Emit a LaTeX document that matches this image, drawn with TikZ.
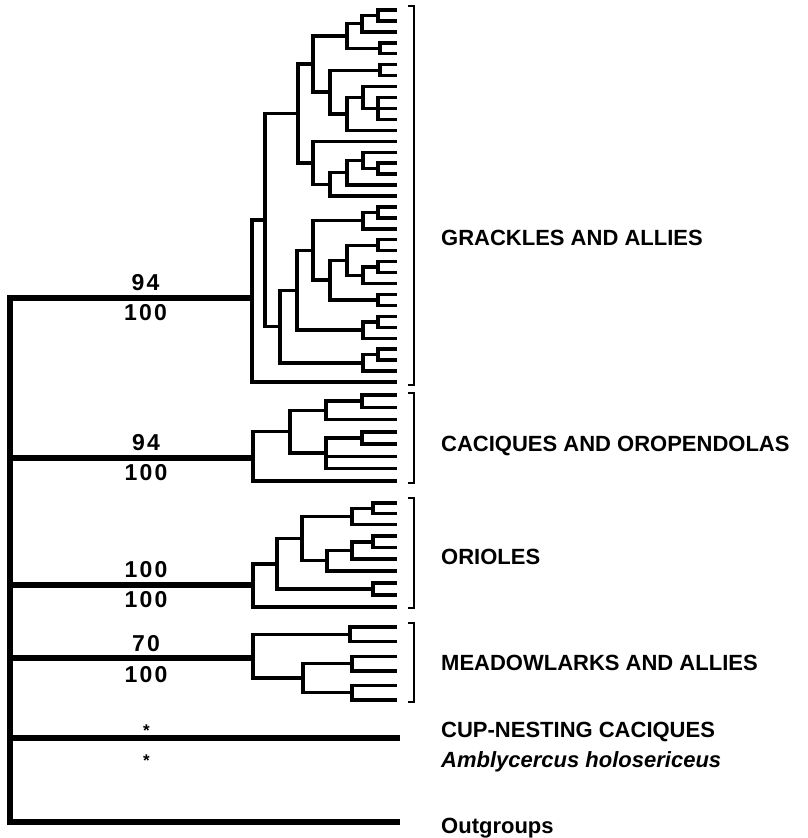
\documentclass[tikz,border=0pt]{standalone}
\usepackage{fontspec}
\setmainfont{Liberation Sans}
\newfontfamily\suppfont{Liberation Sans}[LetterSpace=10]
\begin{document}
\begin{tikzpicture}[x=1pt,y=-1pt,
    br/.style={line width=3.4pt},
    stem/.style={line width=5.4pt},
    brk/.style={line width=1.5pt},
    supp/.style={font=\suppfont\bfseries\fontsize{23}{26}\selectfont,inner sep=0pt,pos=.44},
    ast/.style={font=\bfseries\fontsize{17}{19}\selectfont,inner sep=0pt,pos=.65},
    clade/.style={font=\bfseries\fontsize{22}{25}\selectfont,inner sep=0pt,anchor=base west}]
    \useasboundingbox (0,0) rectangle (808,838);

    % grackles and allies
    \foreach \i in {1,...,35}
    \coordinate (gl\i) at (397,{10+10.94*(\i-1)});
    \coordinate (gn0) at (252,298);
    \coordinate (gn1) at (265,220);
    \coordinate (gn2) at (298,113.4);
    \coordinate (gn3) at (280,326.5);
    \coordinate (gn4) at (313,64);
    \coordinate (gn5) at (313,162.8);
    \coordinate (gn6) at (347,36);
    \coordinate (gn7) at (330,92);
    \coordinate (gn8) at (362,23.7);
    \coordinate (gn9) at (380,48.3);
    \coordinate (gn10) at (378,15.45);
    \coordinate (gn11) at (380,70.2);
    \coordinate (gn12) at (347,113.9);
    \coordinate (gn13) at (363,97.5);
    \coordinate (gn14) at (378,108.5);
    \coordinate (gn15) at (330,184.3);
    \coordinate (gn16) at (347,172.7);
    \coordinate (gn17) at (363,160.4);
    \coordinate (gn18) at (378,168.6);
    \coordinate (gn19) at (297,290.2);
    \coordinate (gn20) at (363,362.8);
    \coordinate (gn21) at (313,250.4);
    \coordinate (gn22) at (363,330);
    \coordinate (gn23) at (363,220.6);
    \coordinate (gn24) at (330,280.1);
    \coordinate (gn25) at (378,212.4);
    \coordinate (gn26) at (347,260.3);
    \coordinate (gn27) at (378,299.9);
    \coordinate (gn28) at (378,245.2);
    \coordinate (gn29) at (363,275.3);
    \coordinate (gn30) at (378,267.1);
    \coordinate (gn31) at (378,321.8);
    \coordinate (gn32) at (378,354.6);

    \foreach \p/\c in {gn0/gn1,gn0/gl35,gn1/gn2,gn1/gn3,gn2/gn4,gn2/gn5,
        gn4/gn6,gn4/gn7,gn6/gn8,gn6/gn9,gn8/gn10,gn8/gl3,gn10/gl1,gn10/gl2,
        gn9/gl4,gn9/gl5,gn7/gn11,gn7/gn12,gn11/gl6,gn11/gl7,gn12/gn13,gn12/gl12,
        gn13/gl8,gn13/gn14,gn14/gl9,gn14/gl10,gn14/gl11,
        gn5/gl13,gn5/gn15,gn15/gn16,gn15/gl18,gn16/gn17,gn16/gl17,
        gn17/gl14,gn17/gn18,gn18/gl15,gn18/gl16,
        gn3/gn19,gn3/gn20,gn19/gn21,gn19/gn22,gn21/gn23,gn21/gn24,
        gn23/gn25,gn23/gl21,gn25/gl19,gn25/gl20,gn24/gn26,gn24/gn27,
        gn26/gn28,gn26/gn29,gn28/gl22,gn28/gl23,gn29/gn30,gn29/gl26,
        gn30/gl24,gn30/gl25,gn27/gl27,gn27/gl28,gn22/gn31,gn22/gl31,
        gn31/gl29,gn31/gl30,gn20/gn32,gn20/gl34,gn32/gl32,gn32/gl33}
    \draw[br] (\p) |- (\c);

    % caciques and oropendolas
    \foreach \i in {1,...,8}
    \coordinate (cl\i) at (397,{395+12.29*(\i-1)});
    \coordinate (cn0) at (253,458);
    \coordinate (cn1) at (290,431.7);
    \coordinate (cn2) at (326,410.4);
    \coordinate (cn3) at (362,401.1);
    \coordinate (cn4) at (326,453);
    \coordinate (cn5) at (362,438);

    \foreach \p/\c in {cn0/cn1,cn0/cl8,cn1/cn2,cn1/cn4,cn2/cn3,cn2/cl3,
        cn3/cl1,cn3/cl2,cn4/cn5,cn4/cl6,cn4/cl7,cn5/cl4,cn5/cl5}
    \draw[br] (\p) |- (\c);

    % orioles
    \foreach \i/\y in {1/503,2/513.5,3/524.5,4/536,5/547.5,6/559,7/571,8/583,9/595,10/607}
    \coordinate (ol\i) at (397,\y);
    \coordinate (on0) at (253,585);
    \coordinate (on1) at (277,563.8);
    \coordinate (on2) at (302,538.6);
    \coordinate (on3) at (352,516.4);
    \coordinate (on4) at (373,508.3);
    \coordinate (on5) at (327,560.7);
    \coordinate (on6) at (352,550.4);
    \coordinate (on7) at (373,589);
    \coordinate (on9) at (373,541.8);

    \foreach \p/\c in {on0/on1,on0/ol10,on1/on2,on1/on7,on2/on3,on2/on5,
        on3/on4,on3/ol3,on4/ol1,on4/ol2,on5/on6,on5/ol7,on6/on9,on6/ol6,
        on9/ol4,on9/ol5,on7/ol8,on7/ol9}
    \draw[br] (\p) |- (\c);

    % meadowlarks and allies
    \foreach \i in {1,...,6}
    \coordinate (ml\i) at (397,{627+14.6*(\i-1)});
    \coordinate (mn0) at (253,658);
    \coordinate (mn1) at (350,634.3);
    \coordinate (mn2) at (303,678.1);
    \coordinate (mn3) at (352,663.5);
    \coordinate (mn4) at (352,692.7);

    \foreach \p/\c in {mn0/mn1,mn0/mn2,mn1/ml1,mn1/ml2,mn2/mn3,mn2/mn4,
        mn3/ml3,mn3/ml4,mn4/ml5,mn4/ml6}
    \draw[br] (\p) |- (\c);

    % backbone
    \coordinate (rb) at (10,822);
    \coordinate (og) at (400,822);
    \coordinate (cp) at (400,738);

    \draw[stem] (gn0) -- node[supp,yshift=15pt] (gs1) {94}
        node[supp,yshift=-15pt] (gs2) {100} (rb |- gn0) -- (rb) -- (og);
    \draw[stem] (cn0) -- node[supp,yshift=15pt] (cs1) {94}
        node[supp,yshift=-15pt] (cs2) {100} (rb |- cn0);
    \draw[stem] (on0) -- node[supp,yshift=15pt] (os1) {100}
        node[supp,yshift=-15pt] (os2) {100} (rb |- on0);
    \draw[stem] (mn0) -- node[supp,yshift=14pt] (ms1) {70}
        node[supp,yshift=-17pt] (ms2) {100} (rb |- mn0);
    \draw[stem] (cp) -- node[ast,yshift=7pt] (ps1) {*}
        node[ast,yshift=-23pt] (ps2) {*} (rb |- cp);

    \foreach \t/\b in {6/385,393/483,498/608,623/702}
    \draw[brk] (408,\t) -| (414,\b) -- (408,\b);

    \node[clade] (lgk) at (441,245) {GRACKLES AND ALLIES};
    \node[clade] (lcq) at (441,451) {CACIQUES AND OROPENDOLAS};
    \node[clade] (lor) at (441,564) {ORIOLES};
    \node[clade] (lmd) at (441,670) {MEADOWLARKS AND ALLIES};
    \node[clade] (lcp) at (441,737) {CUP-NESTING CACIQUES};
    \node[clade,font=\bfseries\itshape\fontsize{22}{25}\selectfont] (lam) at (441,767) {Amblycercus holosericeus};
    \node[clade] (log) at (441,833) {Outgroups};
\end{tikzpicture}
\end{document}
